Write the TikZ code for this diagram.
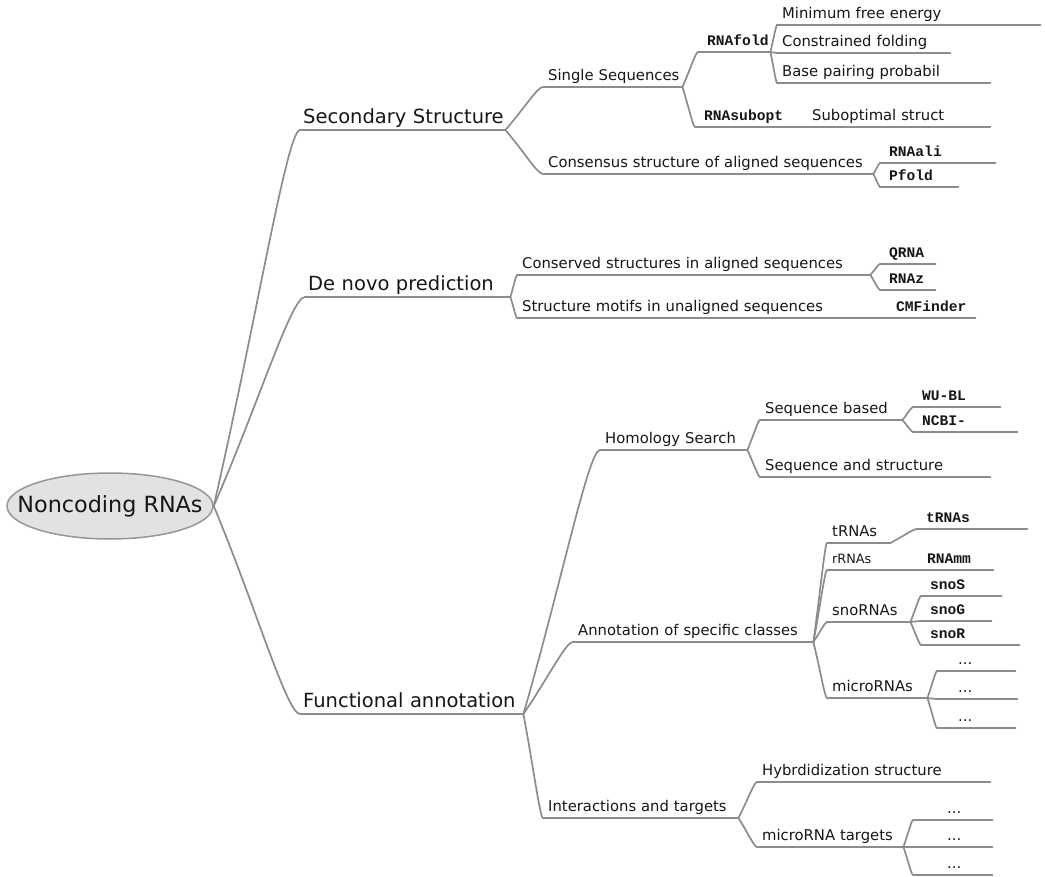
\documentclass[tikz,border=0pt]{standalone}
\usepackage{fontspec}
\setmainfont{DejaVu Sans}
\setmonofont{Liberation Mono}
\usepackage{tikz}
\usetikzlibrary{shapes.geometric, calc}
\definecolor{mapgray}{RGB}{140, 140, 140}
\definecolor{rootfill}{RGB}{225, 227, 227}
\definecolor{rootline}{RGB}{150, 150, 150}
\definecolor{inkblack}{RGB}{22, 22, 22}

\begin{document}
\begin{tikzpicture}[
    x=1pt, y=-1pt,
    every node/.style={text=inkblack},
    rootnode/.style={ellipse, draw=rootline, fill=rootfill, line width=1.5pt,
                     minimum width=206pt, minimum height=66pt, inner xsep=-22pt, inner ysep=0pt,
                     font=\fontsize{22.3}{26}\selectfont},
    mapnode/.style={anchor=south west, inner xsep=5pt, inner ysep=6pt, text depth=0pt, align=left,
                    execute at begin node={\leavevmode\hbox\bgroup}, execute at end node={\egroup}},
    topic/.style={mapnode, inner xsep=3pt, font=\fontsize{19.5}{23}\selectfont},
    subtopic/.style={mapnode, font=\fontsize{14.8}{17}\selectfont},
    smalltopic/.style={mapnode, font=\fontsize{12.8}{15}\selectfont},
    toolname/.style={mapnode, inner xsep=9pt, font=\fontsize{14.6}{17}\selectfont\ttfamily\bfseries},
    dotsnode/.style={subtopic, inner xsep=21pt},
    twigline/.style={draw=mapgray, line width=1.7pt, line cap=round},
    twig/.style={to path={let \p1=(\tikztostart), \p2=(\tikztotarget) in
                 .. controls ($(\p1)!0.5!(\p2)$) and ({\x1+0.85*(\x2-\x1)},\y2) .. (\p2)}}
]
\useasboundingbox (0,0) rectangle (1045,877);

% Root
\node[rootnode] (root) at (110,506) {Noncoding RNAs};

% Main topics
\node[topic, text width=199pt] (sec) at (300,130) {Secondary Structure};
\node[topic, text width=199pt] (denovo) at (305,297) {De novo prediction};
\node[topic, text width=217pt] (func) at (300,714) {Functional annotation};

% Secondary structure
\node[subtopic, text width=129pt] (single) at (543,87) {Single Sequences};
\node[subtopic, text width=320pt] (consensus) at (543,174) {Consensus structure of aligned sequences};
\node[toolname, text width=54pt] (rnafold) at (698,52) {RNAfold};
\node[toolname, text width=92pt] (rnasubopt) at (695,127) {RNAsubopt};
\node[subtopic, text width=253pt] (mfe) at (777,25) {Minimum free energy};
\node[subtopic, text width=163pt] (constr) at (777,53) {Constrained folding};
\node[subtopic, text width=203pt] (bpp) at (777,83) {Base pairing probabil};
\node[subtopic, text width=173pt] (subopt) at (807,127) {Suboptimal struct};
\node[toolname, text width=97pt] (rnaali) at (880,163) {RNAali};
\node[toolname, text width=60pt] (pfold) at (880,187) {Pfold};

% De novo prediction
\node[subtopic, text width=343pt] (conserved) at (517,275) {Conserved structures in aligned sequences};
\node[subtopic, text width=360pt] (motifs) at (517,318) {Structure motifs in unaligned sequences};
\node[toolname, text width=37pt] (qrna) at (880,264) {QRNA};
\node[toolname, text width=37pt] (rnaz) at (880,290) {RNAz};
\node[toolname, text width=70pt] (cmfinder) at (887,318) {CMFinder};

% Functional annotation
\node[subtopic, text width=137pt] (homology) at (600,450) {Homology Search};
\node[subtopic, text width=230pt] (annot) at (573,642) {Annotation of specific classes};
\node[subtopic, text width=185pt] (inter) at (543,818) {Interactions and targets};
\node[subtopic, text width=132pt] (seqbased) at (760,420) {Sequence based};
\node[subtopic, text width=220pt] (seqstruct) at (760,477) {Sequence and structure};
\node[toolname, text width=69pt] (wubl) at (913,407) {WU-BL};
\node[toolname, text width=86pt] (ncbi) at (913,432) {NCBI-};

\node[subtopic, text width=53pt] (trnas) at (827,543) {tRNAs};
\node[smalltopic, text width=81pt] (rrnas) at (827,570) {rRNAs};
\node[subtopic, text width=73pt] (snornas) at (827,622) {snoRNAs};
\node[subtopic, text width=90pt] (micrornas) at (827,698) {microRNAs};
\node[toolname, text width=92pt] (trnatool) at (917,529) {tRNAs};
\node[toolname, text width=57pt] (rnamm) at (918,570) {RNAmm};
\node[toolname, text width=62pt] (snos) at (921,596) {snoS};
\node[toolname, text width=52pt] (snog) at (921,621) {snoG};
\node[toolname, text width=80pt] (snor) at (921,645) {snoR};
\node[dotsnode, text width=36pt] (mira) at (937,671) {...};
\node[dotsnode, text width=38pt] (mirb) at (937,699) {...};
\node[dotsnode, text width=36pt] (mirc) at (937,728) {...};

\node[subtopic, text width=223pt] (hybrid) at (757,782) {Hybrdidization structure};
\node[subtopic, text width=136pt] (mirtargets) at (757,847) {microRNA targets};
\node[dotsnode, inner xsep=34pt, text width=11pt] (tga) at (913,820) {...};
\node[dotsnode, inner xsep=34pt, text width=11pt] (tgb) at (913,847) {...};
\node[dotsnode, inner xsep=34pt, text width=11pt] (tgc) at (913,875) {...};

% Underlines
\foreach \n in {sec, denovo, func, single, consensus, rnafold, rnasubopt, mfe, constr, bpp,
    subopt, rnaali, pfold, conserved, motifs, qrna, rnaz, cmfinder, homology, annot, inter,
    seqbased, seqstruct, wubl, ncbi, trnas, rrnas, snornas, micrornas, trnatool, rnamm,
    snos, snog, snor, mira, mirb, mirc, hybrid, mirtargets, tga, tgb, tgc}
    \draw[twigline] (\n.south west) -- (\n.south east);

% Branches
\foreach \b in {sec, denovo, func}
    \draw[twigline] (root.east) to[twig] (\b.south west);
\foreach \a/\b in {sec/single, sec/consensus, single/rnafold, single/rnasubopt,
    rnafold/mfe, rnafold/constr, rnafold/bpp, rnasubopt/subopt, consensus/rnaali, consensus/pfold,
    denovo/conserved, denovo/motifs, conserved/qrna, conserved/rnaz, motifs/cmfinder,
    func/homology, func/annot, func/inter, homology/seqbased, homology/seqstruct,
    seqbased/wubl, seqbased/ncbi, annot/trnas, annot/rrnas, annot/snornas, annot/micrornas,
    trnas/trnatool, rrnas/rnamm, snornas/snos, snornas/snog, snornas/snor,
    micrornas/mira, micrornas/mirb, micrornas/mirc, inter/hybrid, inter/mirtargets,
    mirtargets/tga, mirtargets/tgb, mirtargets/tgc}
    \draw[twigline] (\a.south east) to[twig] (\b.south west);

\end{tikzpicture}
\end{document}
